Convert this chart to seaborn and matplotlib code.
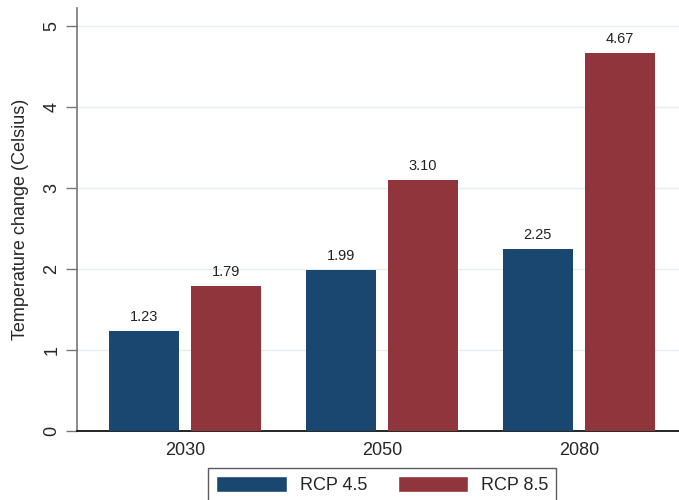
import matplotlib
matplotlib.use("Agg")
import matplotlib.pyplot as plt
import seaborn as sns
import pandas as pd
from matplotlib.patches import Patch

years = ["2030", "2050", "2080"]
rcp45 = [1.23, 1.99, 2.25]
rcp85 = [1.79, 3.10, 4.67]
series = ["RCP 4.5", "RCP 8.5"]
yticks = [0, 1, 2, 3, 4, 5]

df = pd.DataFrame({
    "year": years * 2,
    "value": rcp45 + rcp85,
    "scenario": [series[0]] * 3 + [series[1]] * 3,
})

sns.set_style("white")
plt.rcParams["font.family"] = ["Liberation Sans", "DejaVu Sans"]

colors = ["#1a476f", "#90353b"]
fig = plt.figure(figsize=(6.79, 5), dpi=100)
ax = fig.add_axes([0.1134, 0.138, 0.8866, 0.846])

sns.barplot(data=df, x="year", y="value", hue="scenario", palette=colors,
            width=0.838, gap=0.15, ax=ax, legend=False, saturation=1,
            edgecolor="none", linewidth=0, zorder=3)

for c in ax.containers:
    ax.bar_label(c, fmt="%.2f", padding=5, fontsize=10.5, color="#222222")

ax.set_ylim(0, 5.22)
ax.set_xlim(-0.548, 2.508)
ax.set_yticks(yticks)
ax.set_yticklabels([str(t) for t in yticks], rotation=90, va="center", fontsize=13)
ax.tick_params(axis="y", length=8, width=1, color="#777777", pad=4, left=True)
ax.tick_params(axis="x", length=0, pad=8, labelsize=13)
ax.grid(axis="y", color="#e6eef0", linewidth=1, zorder=0)
ax.set_axisbelow(True)
ax.set_xlabel("")
ax.set_ylabel("Temperature change (Celsius)", fontsize=13, labelpad=10)

for s in ["top", "right"]:
    ax.spines[s].set_visible(False)
ax.spines["left"].set_color("#777777")
ax.spines["left"].set_linewidth(1.2)
ax.spines["bottom"].set_color("black")
ax.spines["bottom"].set_linewidth(1.2)

handles = [Patch(facecolor=colors[0]), Patch(facecolor=colors[1])]
leg = fig.legend(handles, series, loc="upper center", bbox_to_anchor=(0.563, 0.082),
                 ncol=2, frameon=True, fancybox=False, edgecolor="#333333",
                 fontsize=13, handlelength=3.9, handleheight=1.0,
                 columnspacing=1.7, borderpad=0.45, handletextpad=0.7)
leg.get_frame().set_linewidth(1)

fig.savefig("out.png", dpi=100)
